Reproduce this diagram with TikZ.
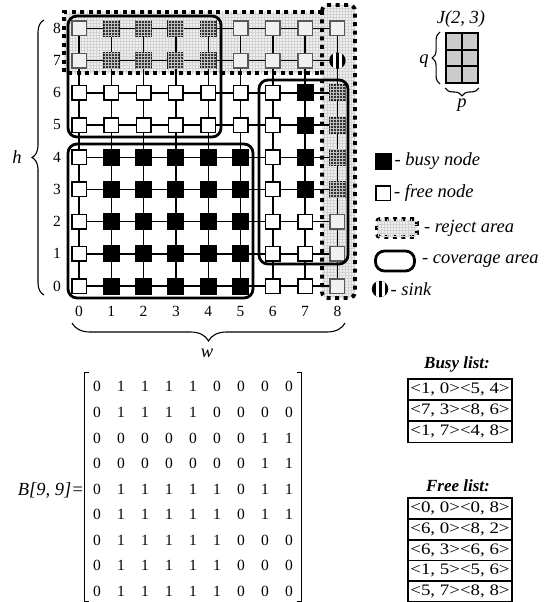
\documentclass[tikz,border=0pt]{standalone}
\usepackage{fontspec}
\usepackage{graphicx}
\setmainfont{Liberation Serif}
\usetikzlibrary{positioning,matrix,patterns,decorations.pathreplacing}

\newcommand{\pairs}[1]{\scalebox{1.18}[1]{#1}}

\begin{document}
\begin{tikzpicture}[x=1pt,y=-1pt,
    font=\fontsize{15.5}{18}\selectfont,
    free/.style={draw,line width=1.5pt,fill=white,minimum size=14.5pt,inner sep=0pt},
    busy/.style={draw,line width=1pt,fill=black,minimum size=16pt,inner sep=0pt},
    rfree/.style={draw=gray!70!black,line width=1.5pt,fill=gray!12,minimum size=14.5pt,inner sep=0pt},
    rbusy/.style={draw=gray!20!black,line width=1pt,fill=black!80,minimum size=16pt,inner sep=0pt,
      postaction={pattern=grid,pattern color=gray!50}},
    sink/.style={circle,fill=black,minimum size=16.5pt,inner sep=0pt,
      path picture={
        \fill[white] ([xshift=-4.5pt]path picture bounding box.south) rectangle ([xshift=-1.5pt]path picture bounding box.north);
        \fill[white] ([xshift=1.5pt]path picture bounding box.south) rectangle ([xshift=4.5pt]path picture bounding box.north);}},
    link/.style={line width=1.4pt},
    cover/.style={line width=2.8pt,rounded corners=9pt},
    reject/.style={line width=3.8pt,dash pattern=on 4pt off 4.5pt},
    rejfill/.style={fill=gray!12,postaction={pattern=grid,pattern color=gray!35}},
    num/.style={inner sep=0pt},
    lbl/.style={font=\fontsize{18.5}{20}\selectfont\itshape,inner sep=0pt},
    title/.style={font=\fontsize{17}{19}\selectfont\bfseries\itshape,inner sep=0pt},
    brc/.style={decorate,decoration={brace,amplitude=#1},line width=1.1pt},
    cell/.style={draw,line width=1.8pt,fill=gray!40,minimum width=16pt,minimum height=16.7pt,inner sep=0pt},
    entry/.style={draw,line width=1.8pt,minimum width=104pt,inner sep=0pt,outer sep=0pt,font=\fontsize{16}{18}\selectfont}
  ]
  \useasboundingbox (0,0) rectangle (547,602);

  % reject area background
  \fill[rejfill] (64,12) rectangle (322,73);
  \fill[rejfill,rounded corners=6pt] (322,5) rectangle (355,298);

  % sensor grid, rows of B from top (y=8) to bottom (y=0)
  \foreach \j/\row in {8/{0,1,1,1,1,0,0,0,0},7/{0,1,1,1,1,0,0,0,0},6/{0,0,0,0,0,0,0,1,1},
      5/{0,0,0,0,0,0,0,1,1},4/{0,1,1,1,1,1,0,1,1},3/{0,1,1,1,1,1,0,1,1},
      2/{0,1,1,1,1,1,0,0,0},1/{0,1,1,1,1,1,0,0,0},0/{0,1,1,1,1,1,0,0,0}} {
    \foreach \v [count=\i from 0] in \row {
      \ifnum\i=8 \def\zone{r}\else\ifnum\j>6 \def\zone{r}\else\def\zone{}\fi\fi
      \ifnum\v=1 \edef\kind{\zone busy}\else\edef\kind{\zone free}\fi
      \ifnum\i=8 \ifnum\j=7 \def\kind{sink}\fi\fi
      \node[\kind] (n-\i-\j) at ({79+32.3*\i},{286-32.2*\j}) {};
    }
  }
  \foreach \j in {0,...,8} {
    \foreach \i [evaluate=\i as \k using int(\i+1)] in {0,...,7} {
      \draw[link] (n-\i-\j) -- (n-\k-\j);
      \draw[link] (n-\j-\i) -- (n-\j-\k);
    }
  }

  % coverage areas
  \draw[cover] (68,16) rectangle (221,137);
  \draw[cover] (68,144) rectangle (253,298);
  \draw[cover] (259,80) rectangle (348,264);

  % reject area border
  \draw[reject] (322,12) -| (64,73) -- (322,73);
  \draw[reject,rounded corners=6pt] (322,5) rectangle (355,298);

  % axes
  \foreach \j in {0,...,8}
    \node[num,left=10pt of n-0-\j] (y-\j) {\j};
  \foreach \i in {0,...,8}
    \node[num,below=12pt of n-\i-0] (x-\i) {\i};
  \draw[brc=12pt] (44,295) -- (44,20);
  \node[lbl] (h) at (17,157) {h};
  \draw[brc=18pt] (345,323) -- (72,323);
  \node[lbl] (w) at (207,353) {w};

  % block J(2, 3)
  \foreach \a in {0,1} {
    \foreach \b in {0,1,2}
      \node[cell] (c-\a-\b) at ({454+16*\a},{41.3+16.7*\b}) {};
  }
  \node[lbl] (J) at (461,19) {J(2, 3)};
  \draw[brc=8pt] ([xshift=-5pt]c-0-2.south west) -- ([xshift=-5pt]c-0-0.north west);
  \node[lbl] (q) at (424,61) {q};
  \draw[brc=8pt] ([yshift=-4pt]c-1-2.south east) -- ([yshift=-4pt]c-0-2.south west);
  \node[lbl] (p) at (462,105) {p};

  % legend
  \node[busy] (l-busy) at (383,161) {};
  \node[lbl,right=3pt of l-busy] (t-busy) {- busy node};
  \node[free] (l-free) at (383,193) {};
  \node[lbl,right=3pt of l-free] (t-free) {- free node};
  \node[draw,rejfill,reject,rounded corners=3pt,minimum width=40pt,minimum height=18pt,inner sep=0pt] (l-rej) at (397,228) {};
  \node[lbl,right=5pt of l-rej] (t-rej) {- reject area};
  \node[draw,cover,minimum width=39pt,minimum height=20pt,inner sep=0pt] (l-cov) at (395,261) {};
  \node[lbl,right=6pt of l-cov] (t-cov) {- coverage area};
  \node[sink] (l-sink) at (380,289) {};
  \node[lbl,right=2pt of l-sink] (t-sink) {- sink};

  % matrix B
  \node[lbl,anchor=east] (B-name) at (84,490) {B[9, 9]=};
  \matrix (B) [matrix of nodes,inner sep=0pt,nodes={num,minimum width=24pt,minimum height=25.5pt}] at (193,489) {
    0 & 1 & 1 & 1 & 1 & 0 & 0 & 0 & 0 \\
    0 & 1 & 1 & 1 & 1 & 0 & 0 & 0 & 0 \\
    0 & 0 & 0 & 0 & 0 & 0 & 0 & 1 & 1 \\
    0 & 0 & 0 & 0 & 0 & 0 & 0 & 1 & 1 \\
    0 & 1 & 1 & 1 & 1 & 1 & 0 & 1 & 1 \\
    0 & 1 & 1 & 1 & 1 & 1 & 0 & 1 & 1 \\
    0 & 1 & 1 & 1 & 1 & 1 & 0 & 0 & 0 \\
    0 & 1 & 1 & 1 & 1 & 1 & 0 & 0 & 0 \\
    0 & 1 & 1 & 1 & 1 & 1 & 0 & 0 & 0 \\
  };
  \draw[line width=0.8pt] ([xshift=4pt,yshift=1pt]B.north west) -- ([yshift=1pt]B.north west) -- ([yshift=3pt]B.south west) -- ([xshift=4pt,yshift=3pt]B.south west);
  \draw[line width=0.8pt] ([xshift=-4pt,yshift=1pt]B.north east) -- ([yshift=1pt]B.north east) -- ([yshift=3pt]B.south east) -- ([xshift=-4pt,yshift=3pt]B.south east);

  % lists
  \node[title] (busy-title) at (457,364) {Busy list:};
  \node[entry,minimum height=21.3pt] (busy-1) at (460,389.3) {\pairs{<1, 0><5, 4>}};
  \node[entry,minimum height=21.3pt,below=0pt of busy-1] (busy-2) {\pairs{<7, 3><8, 6>}};
  \node[entry,minimum height=21.3pt,below=0pt of busy-2] (busy-3) {\pairs{<1, 7><4, 8>}};
  \node[title] (free-title) at (458,486) {Free list:};
  \node[entry,minimum height=20.8pt] (free-1) at (460,508.4) {\pairs{<0, 0><0, 8>}};
  \node[entry,minimum height=20.8pt,below=0pt of free-1] (free-2) {\pairs{<6, 0><8, 2>}};
  \node[entry,minimum height=20.8pt,below=0pt of free-2] (free-3) {\pairs{<6, 3><6, 6>}};
  \node[entry,minimum height=20.8pt,below=0pt of free-3] (free-4) {\pairs{<1, 5><5, 6>}};
  \node[entry,minimum height=20.8pt,below=0pt of free-4] (free-5) {\pairs{<5, 7><8, 8>}};
\end{tikzpicture}
\end{document}
